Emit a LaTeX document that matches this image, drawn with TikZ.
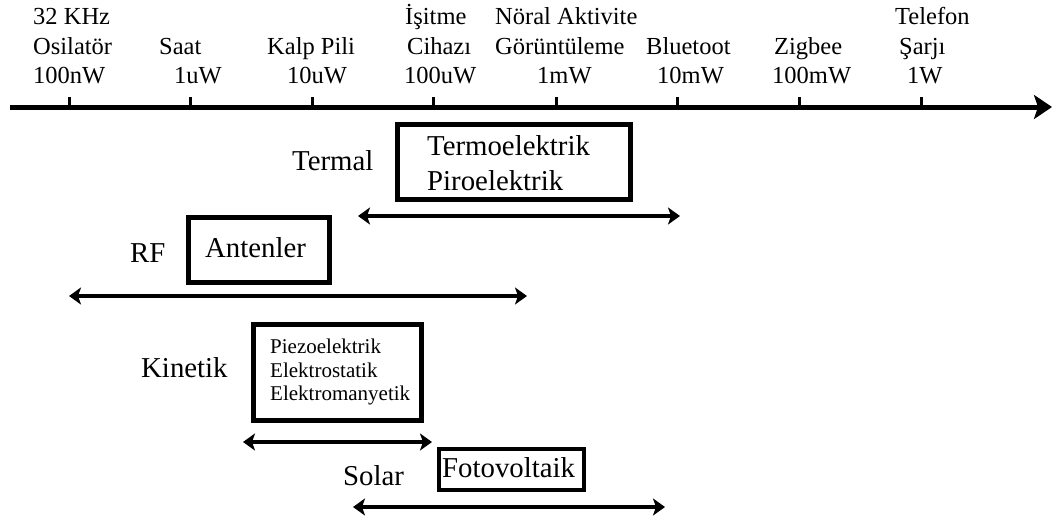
\documentclass[tikz,border=0pt]{standalone}
\usepackage{fontspec}
\setmainfont{Liberation Serif}
\usetikzlibrary{arrows.meta}
\begin{document}
\begin{tikzpicture}[x=1pt,y=-1pt,
  toplbl/.style={anchor=base west,inner sep=0pt,font=\fontsize{24.5}{29}\selectfont},
  biglbl/.style={anchor=base west,inner sep=0pt,font=\fontsize{28.8}{34}\selectfont},
  smalllbl/.style={anchor=base west,inner sep=0pt,font=\fontsize{21}{24}\selectfont},
  techbox/.style={draw,line width=5pt,rectangle,inner sep=0pt},
  rangearrow/.style={line width=4pt,{Stealth[length=12pt,width=17pt,inset=3pt]}-{Stealth[length=12pt,width=17pt,inset=3pt]}},
  tickline/.style={line width=3pt}
]
\useasboundingbox (0,0) rectangle (1052,519);

% axis
\coordinate (ax0) at (10,107);
\coordinate (ax1) at (1052,107);
\draw[line width=5pt,-{Stealth[length=18pt,width=24pt,inset=4pt]}] (ax0) -- (ax1);
\foreach \x [count=\i] in {69,190,312,433,556,677,799,921}{
  \coordinate (t\i) at (\x,107);
  \draw[tickline] (t\i) -- ++(0,-10);
}

% top labels
\node[toplbl] (l1a) at (33,25) {32 KHz};
\node[toplbl] (l1b) at (33,55) {Osilatör};
\node[toplbl] (l1c) at (33,83) {100nW};
\node[toplbl] (l2b) at (159,55) {Saat};
\node[toplbl] (l2c) at (174,83) {1uW};
\node[toplbl] (l3b) at (267,55) {Kalp Pili};
\node[toplbl] (l3c) at (287,83) {10uW};
\node[toplbl] (l4a) at (405,25) {İşitme};
\node[toplbl] (l4b) at (407,55) {Cihazı};
\node[toplbl] (l4c) at (404,83) {100uW};
\node[toplbl] (l5a) at (495,25) {Nöral Aktivite};
\node[toplbl] (l5b) at (495,55) {Görüntüleme};
\node[toplbl] (l5c) at (537,83) {1mW};
\node[toplbl] (l6b) at (646,55) {Bluetoot};
\node[toplbl] (l6c) at (657,83) {10mW};
\node[toplbl] (l7b) at (774,55) {Zigbee};
\node[toplbl] (l7c) at (772,83) {100mW};
\node[toplbl] (l8a) at (895,25) {Telefon};
\node[toplbl] (l8b) at (899,55) {Şarjı};
\node[toplbl] (l8c) at (907,83) {1W};

% Termal
\node[techbox,minimum width=233pt,minimum height=75pt] (termbox) at (514,162) {};
\node[biglbl] (termal) at (292,170) {Termal};
\node[biglbl] (termo) at (427,155) {Termoelektrik};
\node[biglbl] (piro) at (427,190) {Piroelektrik};
\coordinate (ta) at (358,216);
\coordinate (tb) at (680,216);
\draw[rangearrow] (ta) -- (tb);

% RF
\node[techbox,minimum width=141pt,minimum height=65pt] (rfbox) at (259,250) {};
\node[biglbl] (rf) at (130,262) {RF};
\node[biglbl] (ant) at (205,257) {Antenler};
\coordinate (ra) at (69,296);
\coordinate (rb) at (527,296);
\draw[rangearrow] (ra) -- (rb);

% Kinetik
\node[techbox,minimum width=168pt,minimum height=96pt] (kinbox) at (337.5,372.5) {};
\node[biglbl] (kin) at (141,377) {Kinetik};
\node[smalllbl] (piezo) at (270,353) {Piezoelektrik};
\node[smalllbl] (elst) at (270,377) {Elektrostatik};
\node[smalllbl] (elmag) at (270,400) {Elektromanyetik};
\coordinate (ka) at (243,442);
\coordinate (kb) at (432,442);
\draw[rangearrow] (ka) -- (kb);

% Solar
\node[techbox,line width=4pt,minimum width=145pt,minimum height=41pt] (solbox) at (511.5,469.5) {};
\node[biglbl] (sol) at (343,485) {Solar};
\node[biglbl] (foto) at (442,477) {Fotovoltaik};
\coordinate (sa) at (353,507);
\coordinate (sb) at (665,507);
\draw[rangearrow] (sa) -- (sb);
\end{tikzpicture}
\end{document}
